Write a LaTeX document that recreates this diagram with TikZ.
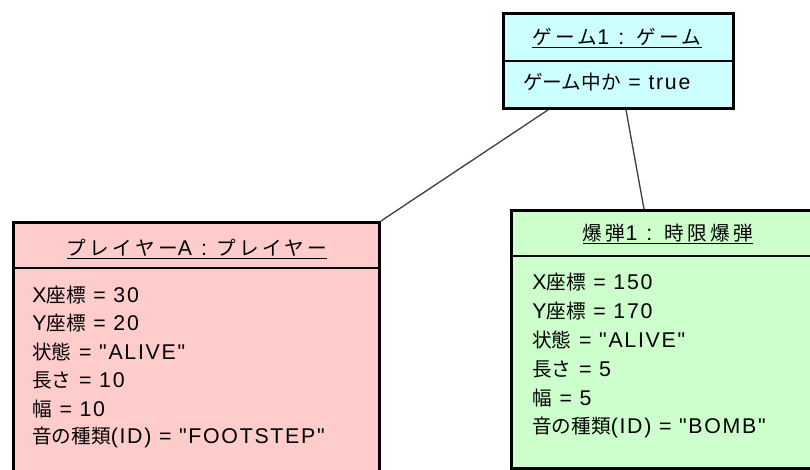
\documentclass[tikz,border=0pt]{standalone}
\usepackage{fontspec}
\setmainfont{Liberation Sans}[Ligatures=TeXOff,LetterSpace=8]
\newfontfamily\jpf{Noto Sans CJK JP}[Ligatures=TeXOff,Scale=0.92]
\newfontfamily\hlat{Liberation Sans}[Ligatures=TeXOff,LetterSpace=15]
\newfontfamily\hjp{Noto Sans CJK JP}[Ligatures=TeXOff,Scale=0.92,LetterSpace=17]
\usetikzlibrary{calc}
\definecolor{gamefill}{HTML}{CCFFFF}
\definecolor{playerfill}{HTML}{FFCCCC}
\definecolor{bombfill}{HTML}{CCFFCC}
\newcommand{\J}[1]{{\jpf #1}}
\newcommand{\HJ}[1]{{\hjp #1}}
\begin{document}
\begin{tikzpicture}[x=0.75pt,y=-0.75pt,
  objbox/.style={draw=black, line width=2.2pt, anchor=north west, inner sep=0pt},
  divline/.style={draw=black, line width=1.1pt},
  attr/.style={anchor=west, inner sep=0pt, font=\fontsize{16}{19}\selectfont},
  hdr/.style={anchor=center, inner sep=0pt, font=\fontsize{16}{19}\hlat},
  link/.style={draw=black!75, line width=1pt}]
\useasboundingbox (0,0) rectangle (810,469);
\begin{scope}
\clip (0,0) rectangle (810,469);
% game box
\node[objbox, fill=gamefill, minimum width=172.5pt, minimum height=71.25pt] (game) at (502,12) {};
\draw[divline] (502,61) -- (732,61);
\node[hdr] (gameh) at (617,38) {\underline{\HJ{ゲーム}1 : \HJ{ゲーム}}};
\node[attr] (gamea) at (523,82) {\J{ゲーム中か} = true};
% player box
\node[objbox, fill=playerfill, minimum width=274.5pt, minimum height=200pt] (player) at (12,221) {};
\draw[divline] (12,268) -- (378,268);
\node[hdr] (playerh) at (197,249) {\underline{\HJ{プレイヤー}A : \HJ{プレイヤー}}};
\node[attr] (p1) at (32,295) {X\J{座標} = 30};
\node[attr] (p2) at (32,323.5) {Y\J{座標} = 20};
\node[attr] (p3) at (32,352) {\J{状態} = "ALIVE"};
\node[attr] (p4) at (32,380.5) {\J{長さ} = 10};
\node[attr] (p5) at (32,409) {\J{幅} = 10};
\node[attr] (p6) at (32,437.5) {\J{音の種類}(ID) = "FOOTSTEP"};
% bomb box
\node[objbox, fill=bombfill, minimum width=237pt, minimum height=193.5pt] (bomb) at (510,209) {};
\draw[divline] (510,256) -- (826,256);
\node[hdr] (bombh) at (668,234) {\underline{\HJ{爆弾}1 : \HJ{時限爆弾}}};
\node[attr] (b1) at (532,282) {X\J{座標} = 150};
\node[attr] (b2) at (532,311) {Y\J{座標} = 170};
\node[attr] (b3) at (532,340) {\J{状態} = "ALIVE"};
\node[attr] (b4) at (532,369) {\J{長さ} = 5};
\node[attr] (b5) at (532,398) {\J{幅} = 5};
\node[attr] (b6) at (532,427) {\J{音の種類}(ID) = "BOMB"};
\end{scope}
% connectors
\draw[link] ($(game.south west)+(46,0)$) -- (player.north east);
\draw[link] ($(game.south west)+(124,0)$) -- ($(bomb.north west)+(134,0)$);
\end{tikzpicture}
\end{document}
